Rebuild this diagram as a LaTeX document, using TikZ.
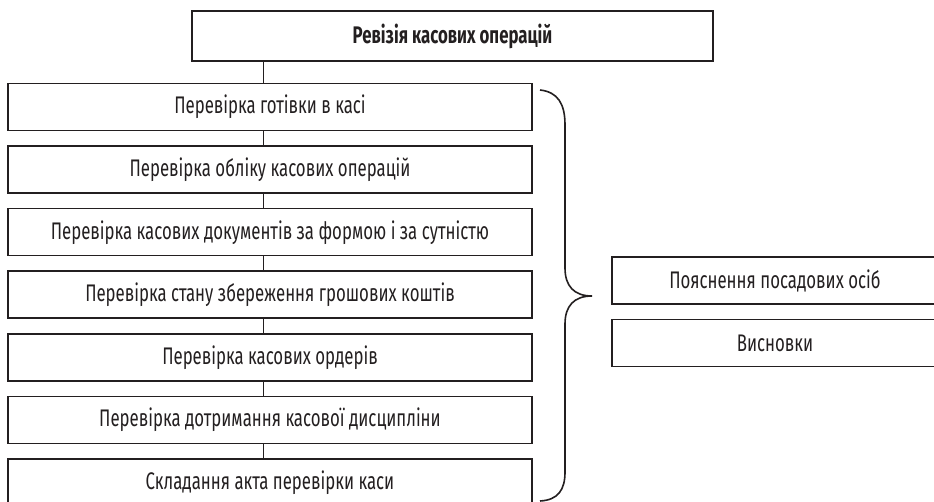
\documentclass[tikz,border=0pt]{standalone}
\usepackage{fontspec}
\setmainfont{Fira Sans}[FakeStretch=0.7]
\usepackage{xcolor}
\usetikzlibrary{positioning}
\definecolor{ink}{HTML}{231F20}

\begin{document}
\begin{tikzpicture}[x=1pt, y=-1pt,
      node distance=14pt,
      box/.style={rectangle, draw=ink, text=ink, line width=1.6pt,
                  minimum width=524pt, minimum height=47pt, inner sep=0pt,
                  font=\fontsize{24}{28}\selectfont},
      sidebox/.style={box, minimum width=326pt},
      link/.style={draw=ink, line width=0.8pt},
      brace/.style={draw=ink, line width=1.6pt}
    ]
    \useasboundingbox (0,0) rectangle (934,502);
    \node[box, minimum width=521pt, minimum height=50pt,
          font=\fontsize{24}{28}\selectfont\bfseries] (rev) at (452.5,36) {Ревізія касових операцій};
    \node[box] (cash) at (270,107) {Перевірка готівки в касі};
    \node[box, below=of cash] (acct) {Перевірка обліку касових операцій};
    \node[box, below=of acct] (docs) {Перевірка касових документів за формою і за сутністю};
    \node[box, below=of docs] (keep) {Перевірка стану збереження грошових коштів};
    \node[box, below=of keep] (ord)  {Перевірка касових ордерів};
    \node[box, below=of ord]  (disc) {Перевірка дотримання касової дисципліни};
    \node[box, below=of disc] (act)  {Складання акта перевірки каси};
    \node[sidebox] (expl) at (775,280.5) {Пояснення посадових осіб};
    \node[sidebox, below=of expl] (concl) {Висновки};
    % links
    \draw[link] ([xshift=-7pt]cash.north) -- ([xshift=-7pt]cash.north |- rev.south);
    \foreach \a/\b in {cash/acct, acct/docs, docs/keep, keep/ord, ord/disc, disc/act}
      \draw[link] ([xshift=-7pt]\a.south) -- ([xshift=-7pt]\b.north);
    % brace
    \draw[brace] (540,90) .. controls (558,92) and (565,104) .. (565,125)
      -- (565,268) .. controls (565,286) and (574,296) .. (592,296)
      .. controls (574,296) and (565,306) .. (565,324)
      -- (565,472) .. controls (565,490) and (558,500) .. (540,501);
  \end{tikzpicture}
\end{document}
